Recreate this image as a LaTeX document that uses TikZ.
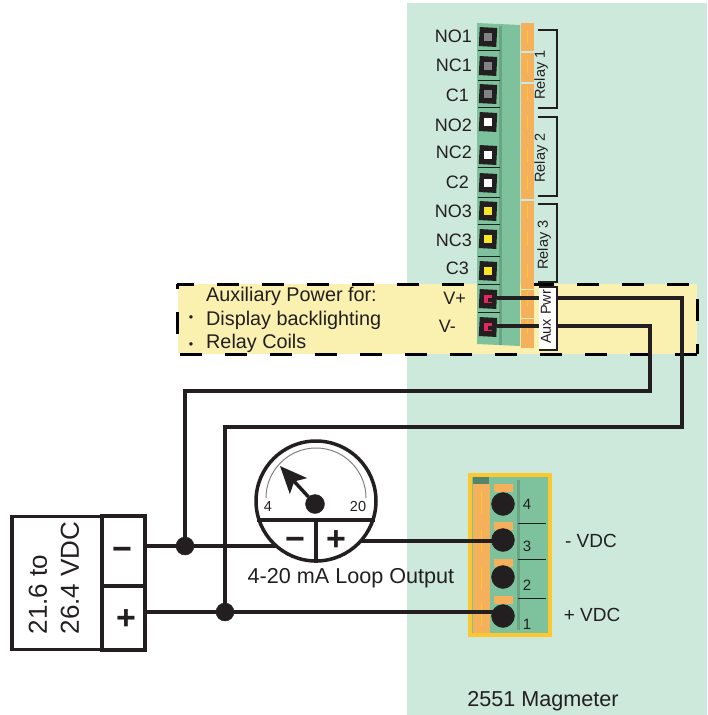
\documentclass[tikz,border=0pt]{standalone}
\usepackage{fontspec}
\setmainfont{Liberation Sans}
\usetikzlibrary{arrows.meta}
\definecolor{ink}{HTML}{231F20}
\definecolor{panel}{HTML}{CDE9DC}
\definecolor{band}{HTML}{FAF0B0}
\definecolor{block}{HTML}{7DC29D}
\definecolor{blockdark}{HTML}{69A583}
\definecolor{strip}{HTML}{F5B05C}
\definecolor{stripline}{HTML}{FDC82F}
\definecolor{lampgray}{HTML}{808285}
\definecolor{lampyellow}{HTML}{F7E52B}
\definecolor{lampred}{HTML}{E6265F}
\tikzset{
    txt/.style={inner sep=0pt, text=ink, font=\fontsize{18}{18}\selectfont},
    auxtxt/.style={txt, font=\fontsize{19.8}{19.8}\selectfont},
    caption/.style={txt, font=\fontsize{21.6}{21.6}\selectfont},
    vdc/.style={txt, font=\fontsize{19}{19}\selectfont},
    small/.style={inner sep=0pt, text=ink, font=\fontsize{14.5}{14.5}\selectfont},
    wire/.style={draw=ink, line width=3.5pt},
    thin wire/.style={draw=ink, line width=1.6pt},
    sign/.style={inner sep=0pt, text=ink, font=\fontsize{34}{34}\selectfont\bfseries},
    dot/.style={circle, fill=ink, draw=ink, inner sep=0pt, minimum size=#1},
    terminal/.style={rectangle, fill=ink, inner sep=0pt, minimum width=17.5pt, minimum height=19pt, rotate=-3},
    window/.style={rectangle, inner sep=0pt, minimum width=7.5pt, minimum height=8pt},
    supply/.style={rectangle, draw=ink, line width=3.5pt, inner sep=0pt}
}
\begin{document}
\begin{tikzpicture}[x=1pt, y=-1pt]
    \useasboundingbox (0,0) rectangle (707,715);
    % Background
    \fill[panel] (407,3) rectangle (707,715);
    \fill[band] (178,284) rectangle (697,354);
    \draw[black, line width=3pt, dash pattern=on 22pt off 23pt, dash phase=5pt] (177,284) -- (697,284) -- (697,354);
    \draw[black, line width=3pt, dash pattern=on 22pt off 23pt] (697,354) -- (177,354) -- (177,284);
    % Upper terminal block
    \fill[block] (477,23) -- (520,25) -- (520,346) -- (477,344) -- cycle;
    \fill[blockdark] (499,26) rectangle (502,345);
    \fill[strip] (521,23) rectangle (534,348);
    \foreach \y in {52,83,200} {
        \draw[panel, line width=1.2pt] (521,\y) -- (534,\y);
    }
    \foreach \y in {289,318} {
        \draw[band, line width=.7pt] (521,\y) -- (534,\y);
    }
    \foreach \y in {107,167,197,224,256,284,312,50,80} {
        \draw[ink, line width=.7pt] (478,\y) -- (500,\y);
    }
    \foreach \name/\i/\y/\ly/\lx/\col in {NO1/1/37/36/472/lampgray,NC1/2/66/65/472/lampgray,C1/3/94/95/469/lampgray,NO2/4/122/125/472/white,NC2/5/155/152/472/white,C2/6/183/182/469/white,NO3/7/211/211/472/lampyellow,NC3/8/239/240/472/lampyellow,C3/9/271/268/469/lampyellow,V+/10/299/298/466/lampred,V-/11/327/326/456/lampred} {
        \node[txt, anchor=east] (Label-\i) at (\lx,\ly) {\name};
        \node[terminal] (Term-\i) at (488,\y) {};
        \node[window, fill=\col] (Window-\i) at (488,\y) {};
        \ifnum \i>9
            \node[rectangle, fill=ink, inner sep=0pt, minimum width=4pt, minimum height=3.5pt] (Notch-\i) at (489.5,\y+1) {};
        \fi
        \draw[stripline, line width=1pt] (527,\y-7) -- (527,\y+7);
    }
    % Auxiliary power text
    \node[auxtxt, anchor=west] (AuxTitle) at (206,296) {Auxiliary Power for:};
    \node[auxtxt, anchor=west] (AuxDisplay) at (206,320) {Display backlighting};
    \node[auxtxt, anchor=west] (AuxCoils) at (206,343) {Relay Coils};
    \node[small, font=\fontsize{12.5}{12.5}\selectfont] (BulletA) at (191,319) {\textbullet};
    \node[small, font=\fontsize{12.5}{12.5}\selectfont] (BulletB) at (191,346) {\textbullet};
    % Wires
    \coordinate (BendA) at (682,298);
    \coordinate (BendB) at (682,427);
    \coordinate (BendC) at (650,326);
    \coordinate (BendD) at (650,391);
    \coordinate (JunctionMinus) at (185,546);
    \coordinate (JunctionPlus) at (225,612);
    \coordinate (MeterMinus) at (280,546);
    \coordinate (MeterPlus) at (355,541);
    \node[supply, minimum width=90pt, minimum height=133pt, align=left] (Supply) at (57,583) {};
    \node[supply, minimum width=43pt, minimum height=70pt] (SupplyMinus) at (123.5,551) {};
    \node[supply, minimum width=43pt, minimum height=64pt] (SupplyPlus) at (123.5,618) {};
    \node[txt, rotate=90, align=left, font=\fontsize{26}{32}\selectfont] (SupplyText) at (54,578) {21.6 to\\26.4 VDC};
    \node[sign] (SignMinus) at (122,554) {−};
    \node[sign] (SignPlus) at (126,620) {+};
    % Lower terminal block
    \node[rectangle, draw=stripline, line width=4pt, fill=block, minimum width=80pt, minimum height=160pt, inner sep=0pt] (LowerBlock) at (510,555) {};
    \fill[strip] (473,484) rectangle (490,633);
    \fill[blockdark!80!black] (473,477) rectangle (489,484);
    \fill[blockdark] (517,480) rectangle (520,630);
    \foreach \y in {484,522,559,596} {
        \fill[strip] (494,\y) rectangle (513,\y+7.5);
        \draw[stripline, line width=1pt] (481,\y+8) -- (481,\y+30);
    }
    \foreach \y in {523,559,598} {
        \draw[ink, line width=.7pt] (518,\y) -- (546,\y);
    }
    \foreach \i/\y/\ly in {4/504/504,3/540/546,2/577/585,1/616/624} {
        \node[dot=23pt] (Loop-\i) at (503,\y) {};
        \node[small, font=\fontsize{15}{15}\selectfont] (Number-\i) at (527,\ly) {\i};
    }
    \draw[wire] (Term-10.east |- BendA) -- (BendA) -- (BendB) -- (BendB -| JunctionPlus) -- (JunctionPlus);
    \draw[wire] (Term-11.east |- BendC) -- (BendC) -- (BendD) -- (BendD -| JunctionMinus) -- (JunctionMinus);
    \draw[wire] (SupplyMinus.east |- JunctionMinus) -- (MeterMinus);
    \draw[wire] (SupplyPlus.east |- JunctionPlus) -- (JunctionPlus -| Loop-1);
    \draw[wire] (MeterPlus) -- (MeterPlus -| Loop-3);
    \node[dot=18pt] (DotMinus) at (JunctionMinus) {};
    \node[dot=18pt] (DotPlus) at (JunctionPlus) {};
    % Relay brackets
    \node[small, rotate=90] (Relay1) at (541,75) {Relay 1};
    \node[small, rotate=90] (Relay2) at (541,158) {Relay 2};
    \node[small, rotate=90] (Relay3) at (544,245) {Relay 3};
    \draw[thin wire] (538,30) -- (557,30) -- (557,108) -- (538,108);
    \draw[thin wire] (538,117) -- (557,117) -- (557,196) -- (538,196);
    \draw[thin wire] (538,204) -- (557,204) -- (557,282) -- (538,282);
    \node[rectangle, fill=white, inner sep=0pt, minimum width=18pt, minimum height=63pt] (AuxBox) at (548,318.5) {};
    \node[small, rotate=90] (AuxText) at (546,317) {Aux Pwr};
    \draw[thin wire] (AuxBox.north west) -- (AuxBox.north east) -- (AuxBox.south east) -- (AuxBox.south west);
    % Meter
    \node[circle, draw=ink, fill=white, line width=3.5pt, minimum size=120pt, inner sep=0pt] (Meter) at (316,501) {};
    \draw[gray, line width=1pt] (266,498) arc (180:360:50);
    \draw[wire] (Meter.198) -- (Meter.-18);
    \draw[wire] (Meter.-90) -- (Meter.-90 |- Meter.198);
    \coordinate (NeedleTip) at (280,466);
    \node[dot=19pt] (Hub) at (315,504) {};
    \draw[wire, -{Stealth[length=27pt, width=23pt, inset=6pt]}] (Hub) -- (NeedleTip);
    \node[small] (MeterLow) at (268,507) {4};
    \node[small] (MeterHigh) at (358,507) {20};
    \node[sign] (MeterSignMinus) at (295,544) {−};
    \node[sign] (MeterSignPlus) at (336,541) {+};
    % Captions
    \node[caption] (LoopCaption) at (351,578) {4-20 mA Loop Output};
    \node[vdc] (VdcMinus) at (591,541) {- VDC};
    \node[vdc] (VdcPlus) at (592,615) {+ VDC};
    \node[caption] (Magmeter) at (543,701) {2551 Magmeter};
\end{tikzpicture}
\end{document}
